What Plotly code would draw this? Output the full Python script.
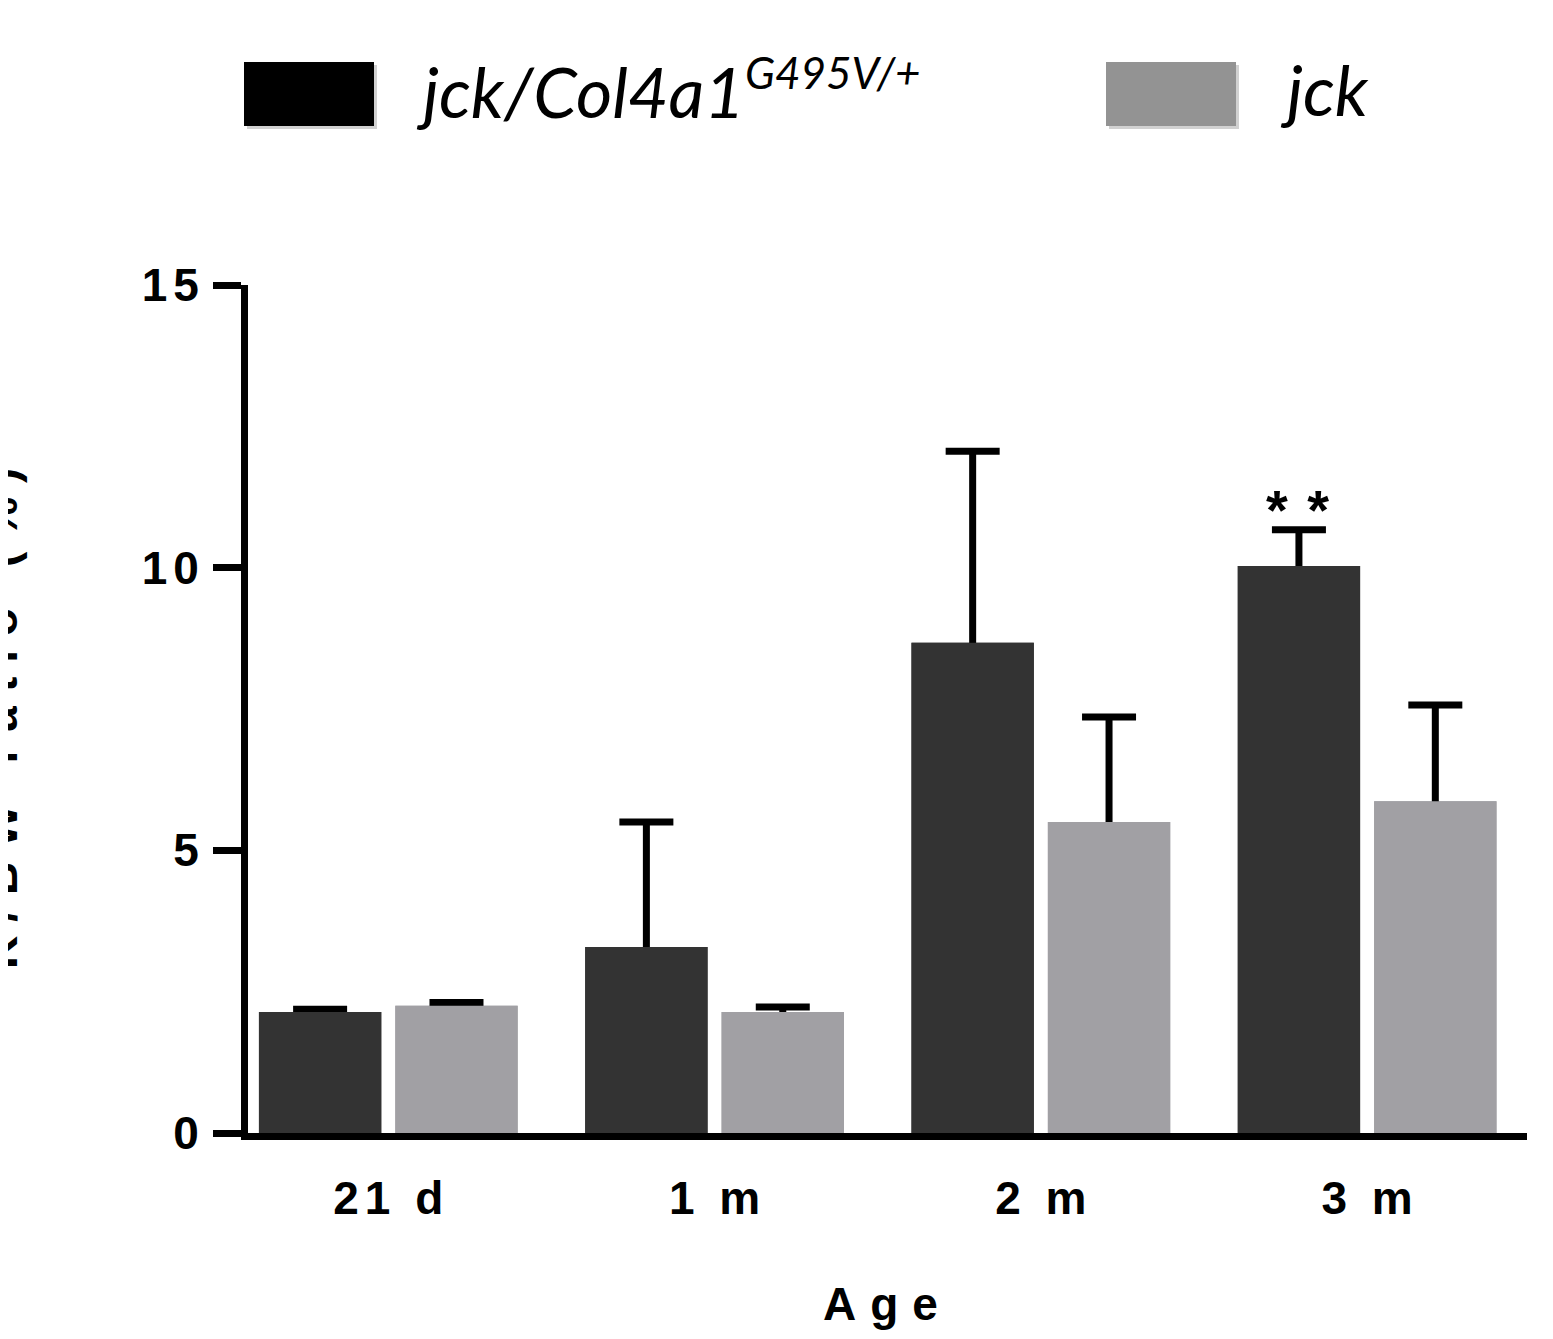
import plotly.graph_objects as go

categories = ["21 d", "1 m", "2 m", "3 m"]
mutant_mean = [2.14, 3.29, 8.67, 10.03]
mutant_err = [0.05, 2.21, 3.39, 0.64]
jck_mean = [2.25, 2.14, 5.50, 5.87]
jck_err = [0.06, 0.09, 1.86, 1.70]
y_ticks = [0, 5, 10, 15]

OFF = 8  # default body margin of the html page
W, H = 1553 - OFF, 1339 - OFF
L, R, T, B = 240, 26, 277, 206
pw, ph = W - L - R, H - T - B

def px(x):
    return (x - OFF - L) / pw

def py(y):
    return (H - B - (y - OFF)) / ph

dark = "#333333"
gray = "#a1a0a4"

fig = go.Figure()
# bars carrying error bars (whiskers run down to zero, hidden by cover bars)
fig.add_trace(go.Bar(
    x=categories, y=mutant_mean, name="mutant", marker_color=dark, offsetgroup="a",
    marker_line_width=0,
    error_y=dict(type="data", array=mutant_err, arrayminus=mutant_mean, symmetric=False,
                 color="black", thickness=7, width=27),
))
fig.add_trace(go.Bar(
    x=categories, y=jck_mean, name="jck", marker_color=gray, offsetgroup="b",
    marker_line_width=0,
    error_y=dict(type="data", array=jck_err, arrayminus=jck_mean, symmetric=False,
                 color="black", thickness=7, width=27),
))
# cover bars
fig.add_trace(go.Bar(x=categories, y=mutant_mean, marker_color=dark, offsetgroup="a",
                     marker_line_width=0, hoverinfo="skip"))
fig.add_trace(go.Bar(x=categories, y=jck_mean, marker_color=gray, offsetgroup="b",
                     marker_line_width=0, hoverinfo="skip"))

tickfont = dict(family="Liberation Sans, Arial", size=46, color="black", weight="bold")

fig.update_layout(
    width=W, height=H,
    margin=dict(l=L, r=R, t=T, b=B),
    paper_bgcolor="white", plot_bgcolor="white",
    barmode="group", bargap=0.164, bargroupgap=0.103,
    showlegend=False,
    xaxis=dict(
        range=[-0.43, 3.49], showgrid=False, zeroline=False,
        showline=True, linewidth=7, linecolor="black",
        ticks="", tickfont=tickfont, ticklabelstandoff=19,
        title=dict(text="Age", font=dict(family="Liberation Sans, Arial", size=46, color="black", weight="bold"), standoff=67),
    ),
    yaxis=dict(
        range=[0, 15], tickvals=y_ticks, showgrid=False, zeroline=False,
        showline=True, linewidth=7, linecolor="black",
        ticks="outside", ticklen=28, tickwidth=7, tickcolor="black",
        tickfont=tickfont, ticklabelstandoff=-1,
    ),
)

# y-axis title (partly off the left edge, as in the reference)
fig.add_annotation(
    text="K/BW ratio (%)", xref="paper", yref="paper", x=px(1), y=py(712),
    xanchor="center", yanchor="middle", textangle=-90, showarrow=False,
    font=dict(family="Liberation Sans, Arial", size=46, color="black", weight="bold"),
)

# significance marker above the 3 m mutant bar
fig.add_annotation(
    text="* *", x=2.79, y=mutant_mean[3] + mutant_err[3], yshift=20,
    xref="x", yref="y", showarrow=False,
    font=dict(family="Liberation Sans, Arial", size=56, color="black", weight="bold"),
)

# custom legend
for x0, color, label, tx in [(244, "#000000", "jck/Col4a1<sup><span style='font-size:44px'>G495V/+</span></sup>", 414),
                             (1106, "#939393", "jck", 1278)]:
    fig.add_shape(type="rect", xref="paper", yref="paper",
                  x0=px(x0 + 3), x1=px(x0 + 133), y0=py(129), y1=py(65),
                  fillcolor="rgba(0,0,0,0.18)", line_width=0, layer="above")
    fig.add_shape(type="rect", xref="paper", yref="paper",
                  x0=px(x0), x1=px(x0 + 130), y0=py(126), y1=py(62),
                  fillcolor=color, line_width=0, layer="above")
    fig.add_annotation(text=label, xref="paper", yref="paper", x=px(tx), y=py(89),
                       xanchor="left", yanchor="middle", showarrow=False,
                       font=dict(family="Lato, Open Sans", size=70, color="black", style="italic"))

post = """
var gd = document.getElementById('{plot_id}');
function spacing() {
  gd.querySelectorAll('.xtick text').forEach(function(t){ t.style.letterSpacing='6px'; t.setAttribute('dx','3'); });
  gd.querySelectorAll('.ytick text').forEach(function(t){ t.style.letterSpacing='6px'; });
  gd.querySelectorAll('.g-xtitle text').forEach(function(t){ t.style.letterSpacing='14px'; });
  gd.querySelectorAll('.annotation-text').forEach(function(t){
    if (t.textContent.indexOf('BW') >= 0) { t.style.letterSpacing='14px'; }
    if (t.textContent.indexOf('*') >= 0) { t.style.letterSpacing='2px'; }
  });
}
spacing();
gd.on('plotly_afterplot', spacing);
"""

fig.write_html("out.html", post_script=post)
